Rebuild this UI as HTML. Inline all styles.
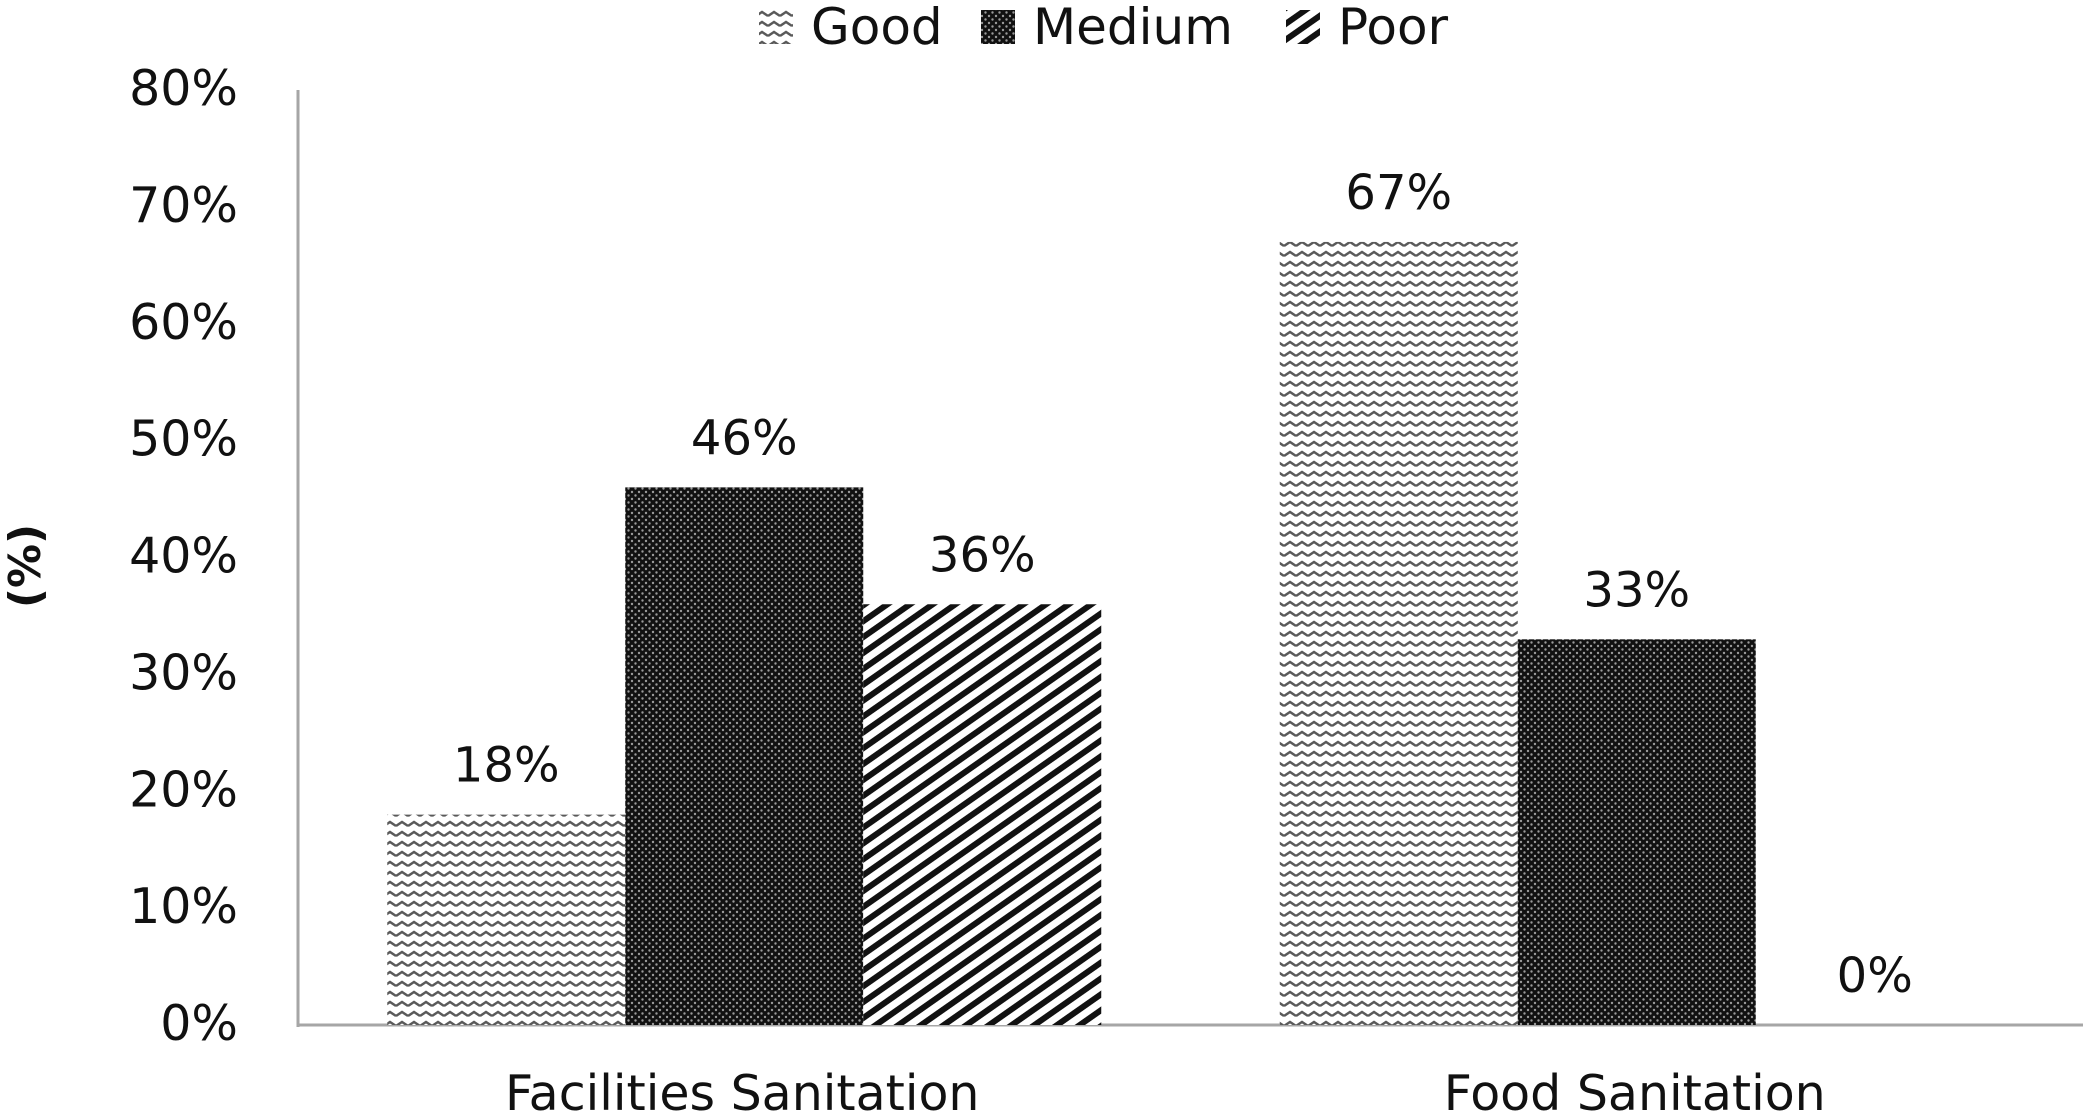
<!DOCTYPE html>
<html><head><meta charset="utf-8"><style>
html,body{margin:0;padding:0;background:#fff;}
svg{display:block;font-family:"DejaVu Sans","Liberation Sans",sans-serif;}
</style></head><body>
<svg id="chart" width="2091" height="1118" viewBox="0 0 2091 1118" xmlns="http://www.w3.org/2000/svg">
<defs>
<pattern id="pGood" width="12" height="10" patternUnits="userSpaceOnUse">
<rect width="12" height="10" fill="#fff"/>
<path d="M0 6 L6 2 L12 6" fill="none" stroke="#5a5a5a" stroke-width="2.4"/>
</pattern>
<pattern id="pMed" width="7" height="7" patternUnits="userSpaceOnUse">
<rect width="7" height="7" fill="#111"/>
<circle cx="2" cy="2" r="1.2" fill="#9a9a9a"/>
<circle cx="5.5" cy="5.5" r="1.2" fill="#9a9a9a"/>
</pattern>
<pattern id="pPoor" width="40" height="13" patternUnits="userSpaceOnUse" patternTransform="rotate(-35)">
<rect width="40" height="13" fill="#fff"/>
<rect y="0" width="40" height="6" fill="#111"/>
</pattern>
</defs>
<g id="axes"></g>
<g id="bars"></g>
<g id="legend"></g>
</svg>
<script>
const categories = ["Facilities Sanitation", "Food Sanitation"];
const seriesNames = ["Good", "Medium", "Poor"];
const goodValues = [18, 67];
const mediumValues = [46, 33];
const poorValues = [36, 0];
const yTicks = [0, 10, 20, 30, 40, 50, 60, 70, 80];

const NS = "http://www.w3.org/2000/svg";
const X0 = 298, X1 = 2083, Y0 = 1025, YTOP = 90, YMAX = 80;
const catW = (X1 - X0) / categories.length;
const barW = 238;
function yScale(v){ return Y0 - (v / YMAX) * (Y0 - YTOP); }
function xBar(ci, si){ return X0 + catW * ci + catW / 2 - barW * 1.5 + si * barW; }
function mk(tag, attrs, parent, text){
  const e = document.createElementNS(NS, tag);
  for (const k in attrs) e.setAttribute(k, attrs[k]);
  if (text !== undefined) e.textContent = text;
  parent.appendChild(e);
  return e;
}
const axes = document.getElementById('axes');
const bars = document.getElementById('bars');
const legend = document.getElementById('legend');

yTicks.forEach(t => {
  const el = mk('text', {x: 238, y: yScale(t) + 15, 'text-anchor': 'end', 'font-size': 49, fill: '#111'}, axes, t + '%');
  
  
});
const yAxis = mk('line', {x1: X0, y1: YTOP, x2: X0, y2: Y0 + 2, stroke: '#a6a6a6', 'stroke-width': 3}, axes);


const xAxis = mk('line', {x1: X0, y1: Y0, x2: X1, y2: Y0, stroke: '#a6a6a6', 'stroke-width': 3}, axes);


const yTitle = mk('text', {x: 0, y: 0, transform: 'translate(40,566) rotate(-90)', 'text-anchor': 'middle', 'font-size': 44, 'font-weight': 'bold', fill: '#111'}, axes, '(%)');



categories.forEach((c, ci) => {
  const el = mk('text', {x: X0 + catW * ci + catW / 2 - 2, y: 1110, 'text-anchor': 'middle', 'font-size': 49, fill: '#111'}, axes, c);
  
  
});

const series = [goodValues, mediumValues, poorValues];
const fills = ['url(#pGood)', 'url(#pMed)', 'url(#pPoor)'];
series.forEach((vals, si) => {
  vals.forEach((v, ci) => {
    const x = xBar(ci, si), y = yScale(v);
    if (v > 0) {
      const r = mk('rect', {x: x, y: y, width: barW, height: Y0 - y, fill: fills[si]}, bars);
      
      
    }
    const lb = mk('text', {x: x + barW / 2, y: y - 50 + 17, 'text-anchor': 'middle', 'font-size': 48, fill: '#111'}, bars, v + '%');
    
    
  });
});

const legX = [759, 981, 1286];
seriesNames.forEach((n, si) => {
  const g = mk('g', {}, legend);
  
  
  mk('rect', {x: legX[si], y: 10, width: 34, height: 34, fill: fills[si]}, g);
  mk('text', {x: legX[si] + 52, y: 44, 'font-size': 50, fill: '#111'}, g, n);
});
</script>
</body></html>
